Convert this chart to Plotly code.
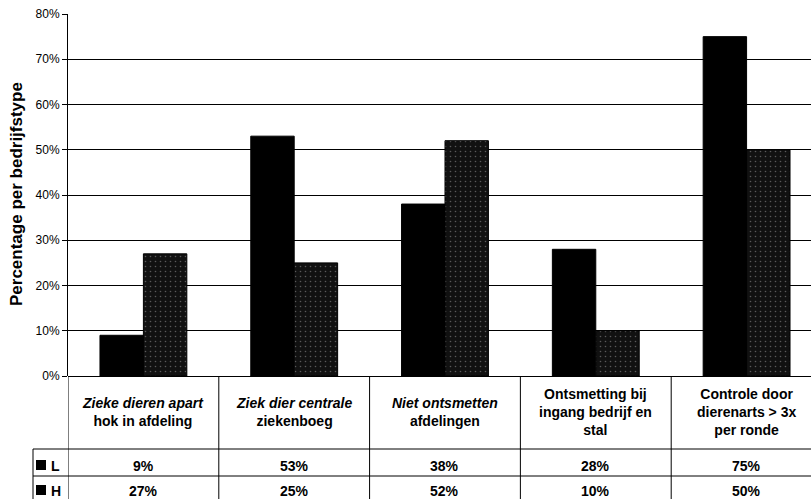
import plotly.graph_objects as go

categories = [
    "<i>Zieke dieren apart</i><br>hok in afdeling",
    "<i>Ziek dier centrale</i><br>ziekenboeg",
    "<i>Niet ontsmetten</i><br>afdelingen",
    "Ontsmetting bij<br>ingang bedrijf en<br>stal",
    "Controle door<br>dierenarts &gt; 3x<br>per ronde",
]
series_names = ["L", "H"]
values_L = [9, 53, 38, 28, 75]
values_H = [27, 25, 52, 10, 50]
y_ticks = [0, 10, 20, 30, 40, 50, 60, 70, 80]
y_ticktext = ["%d%%" % v for v in y_ticks]
y_title = "Percentage per bedrijfstype"

W, H = 811, 499
ML, MT, MB = 68, 14, 123
PW = W - ML
PH = H - MT - MB

def py(p):
    return (H - MB - p) / PH

def px(p):
    return (p - ML) / PW

xs = list(range(len(categories)))
fig = go.Figure()
fig.add_bar(x=xs, y=values_L, name="L",
            marker=dict(color="#000000", line=dict(color="#000000", width=1)))
fig.add_bar(x=xs, y=values_H, name="H",
            marker=dict(color="#111111", line=dict(color="#000000", width=1),
                        pattern=dict(shape=".", fgcolor="#5a5a5a", bgcolor="#111111",
                                     size=5, solidity=0.08, fillmode="replace")))

font_family = "Liberation Sans, Arial, sans-serif"
shapes = []
annotations = []
n = len(categories)
for i in range(n + 1):
    shapes.append(dict(type="line", xref="x", yref="paper", x0=i - 0.5, x1=i - 0.5,
                       y0=0, y1=py(505), line=dict(color="#000", width=1)))
shapes.append(dict(type="line", xref="paper", yref="paper", x0=px(33), x1=px(33),
                   y0=py(449), y1=py(505), line=dict(color="#000", width=1)))
for yy in (449, 476):
    shapes.append(dict(type="line", xref="paper", yref="paper", x0=px(33), x1=1.02,
                       y0=py(yy), y1=py(yy), line=dict(color="#000", width=1)))
for yy in (465, 490):
    shapes.append(dict(type="rect", xref="paper", yref="paper", x0=px(36), x1=px(46),
                       y0=py(yy + 5), y1=py(yy - 5), fillcolor="#000",
                       line=dict(color="#000", width=0)))
for name, yy in zip(series_names, (466, 491)):
    annotations.append(dict(text="<b>" + name + "</b>", xref="paper", yref="paper",
                            x=px(49), y=py(yy), xanchor="left", yanchor="middle",
                            showarrow=False, font=dict(family=font_family, size=14, color="#000")))

for i, c in enumerate(categories):
    annotations.append(dict(text="<b>" + c + "</b>", xref="x", yref="paper", x=i, y=py(412),
                            xanchor="center", yanchor="middle", showarrow=False,
                            align="center",
                            font=dict(family=font_family, size=14, color="#000")))
    annotations.append(dict(text="<b>%d%%</b>" % values_L[i], xref="x", yref="paper", x=i,
                            y=py(466), xanchor="center", yanchor="middle", showarrow=False,
                            font=dict(family=font_family, size=14, color="#000")))
    annotations.append(dict(text="<b>%d%%</b>" % values_H[i], xref="x", yref="paper", x=i,
                            y=py(491), xanchor="center", yanchor="middle", showarrow=False,
                            font=dict(family=font_family, size=14, color="#000")))

annotations.append(dict(text="<b>" + y_title + "</b>", xref="paper", yref="paper",
                        x=px(17), y=py(194), xanchor="center", yanchor="middle",
                        textangle=-90, showarrow=False,
                        font=dict(family=font_family, size=17, color="#000")))

fig.update_layout(
    width=W, height=H,
    margin=dict(l=ML, r=0, t=MT, b=MB, pad=0),
    paper_bgcolor="white", plot_bgcolor="white",
    barmode="group", bargap=0.424, bargroupgap=0,
    showlegend=False,
    font=dict(family=font_family, color="#000"),
    shapes=shapes, annotations=annotations,
    xaxis=dict(range=[-0.5, n - 0.5 - 11 / 151], showticklabels=False, showgrid=False,
               zeroline=False, showline=False, ticks=""),
    yaxis=dict(range=[0, 80], tickmode="array", tickvals=y_ticks, ticktext=y_ticktext,
               tickfont=dict(size=12, family=font_family, color="#000"),
               showgrid=True, gridcolor="#000", gridwidth=1,
               zeroline=True, zerolinecolor="#000", zerolinewidth=1,
               showline=True, linecolor="#000", linewidth=1,
               ticks="outside", ticklen=5, tickcolor="#000",
               automargin=False),
)

fig.write_html("out.html")
